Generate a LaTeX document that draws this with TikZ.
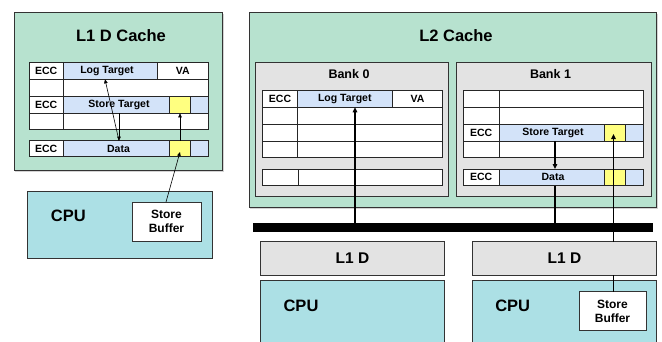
\documentclass[tikz,border=0pt]{standalone}
\usepackage{fontspec}
\setmainfont{Liberation Sans}
\usetikzlibrary{shadows,arrows.meta}
\definecolor{cgreen}{RGB}{183,226,207}
\definecolor{cgray}{RGB}{227,227,227}
\definecolor{cblue}{RGB}{211,227,249}
\definecolor{cyel}{RGB}{255,255,128}
\definecolor{ccyan}{RGB}{172,224,229}
\newcommand\rbox[7]{\node[#2, minimum width={(#5-#3)*1pt}, minimum height={(#6-#4)*1pt}] (#1) at ({(#3+#5)/2},{(#4+#6)/2}) {#7};}
\begin{document}
\begin{tikzpicture}[x=1pt,y=-1pt,
  box/.style={draw=black!80, line width=0.9pt, inner sep=0pt, outer sep=0pt},
  shbox/.style={box, drop shadow={shadow xshift=1pt, shadow yshift=-1.5pt, opacity=0.35}},
  cell/.style={draw=black!85, line width=0.8pt, fill=white, inner sep=0pt, outer sep=0pt, font=\fontsize{10.5}{12}\selectfont\bfseries},
  bluecell/.style={cell, fill=cblue},
  yelcell/.style={cell, fill=cyel},
  celltext/.style={inner sep=0pt, font=\fontsize{10.5}{12}\selectfont\bfseries},
  bigtitle/.style={inner sep=0pt, font=\fontsize{16.5}{18}\selectfont\bfseries},
  banktitle/.style={inner sep=0pt, font=\fontsize{12.5}{14}\selectfont\bfseries},
  cputext/.style={inner sep=0pt, font=\fontsize{16.5}{18}\selectfont\bfseries},
  sbtext/.style={align=center, font=\fontsize{12}{14}\selectfont\bfseries},
  thinarr/.style={-{Triangle[length=4pt,width=3.5pt]}, line width=0.6pt},
  arr/.style={-{Triangle[length=5pt,width=4.5pt]}, line width=1.3pt},
  conn/.style={line width=1.3pt}]
\useasboundingbox (0,0) rectangle (662,341);

% ---------- L1 D Cache (left) ----------
\rbox{l1c}{shbox, fill=cgreen}{14}{12.7}{222.7}{170}{}
\node[bigtitle] (l1title) at (121,36) {L1 D Cache};
\rbox{l1ecc1}{cell}{29}{62.7}{63.3}{79.3}{ECC}
\rbox{l1lt}{bluecell}{63.3}{62.7}{157.7}{79.3}{}
\node[celltext] (l1lttext) at (107,71) {Log Target};
\rbox{l1va}{cell}{157.7}{62.7}{208}{79.3}{VA}
\rbox{l1a2}{cell}{29}{79.3}{63.3}{96.7}{}
\rbox{l1b2}{cell}{63.3}{79.3}{208}{96.7}{}
\rbox{l1ecc3}{cell}{29}{96.7}{63.3}{113.3}{ECC}
\rbox{l1st}{bluecell}{63.3}{96.7}{208}{113.3}{}
\node[celltext] (l1sttext) at (119,105) {Store Target};
\rbox{l1sty}{yelcell}{169.3}{96.7}{190.7}{113.3}{}
\rbox{l1a4}{cell}{29}{113.3}{63.3}{129.3}{}
\rbox{l1b4}{cell}{63.3}{113.3}{208}{129.3}{}
\rbox{l1ecc5}{cell}{29}{140.7}{63.3}{156.7}{ECC}
\rbox{l1data}{bluecell}{63.3}{140.7}{208}{156.7}{}
\node[celltext] (l1datatext) at (118.5,148.7) {Data};
\rbox{l1dy}{yelcell}{169.3}{140.7}{190.7}{156.7}{}

% ---------- CPU (left) ----------
\rbox{cpu1}{box, fill=ccyan}{27}{191}{212}{258}{}
\node[cputext] (cpu1t) at (68.3,215.5) {CPU};
\rbox{sb1}{box, fill=white, sbtext}{132}{202}{201}{241}{Store\\Buffer}

% L1 arrows
\coordinate (xa) at (119,0);
\coordinate (xb) at (105,0);
\coordinate (xc) at (166,0);
\coordinate (ytip) at (0,152);
\draw[thinarr] (l1st.south -| xa) -- (l1data.north -| xa);
\draw[thinarr] (l1data.north -| xa) -- (l1lt.south -| xb);
\draw[thinarr] (l1dy.north) -- (l1sty.south);
\draw[thinarr] (sb1.north -| xc) -- (ytip -| l1dy.center);

% ---------- L2 Cache ----------
\rbox{l2c}{shbox, fill=cgreen}{249}{12.3}{656.7}{207}{}
\node[bigtitle] (l2title) at (456,36) {L2 Cache};

% Bank 0
\rbox{bank0}{box, fill=cgray}{255}{62.7}{448.3}{196.7}{}
\node[banktitle] (bank0t) at (349,74.3) {Bank 0};
\rbox{b0ecc}{cell}{262.7}{90.7}{297.3}{107.3}{ECC}
\rbox{b0lt}{bluecell}{297.3}{90.7}{392.3}{107.3}{Log Target}
\rbox{b0va}{cell}{392.3}{90.7}{442.7}{107.3}{VA}
\rbox{b0a2}{cell}{262.7}{107.3}{297.3}{124.3}{}
\rbox{b0b2}{cell}{297.3}{107.3}{442.7}{124.3}{}
\rbox{b0a3}{cell}{262.7}{124.3}{297.3}{141}{}
\rbox{b0b3}{cell}{297.3}{124.3}{442.7}{141}{}
\rbox{b0a4}{cell}{262.7}{141}{297.3}{157.3}{}
\rbox{b0b4}{cell}{297.3}{141}{442.7}{157.3}{}
\rbox{b0a5}{cell}{262.7}{169}{298}{185.7}{}
\rbox{b0b5}{cell}{298}{169}{442.7}{185.7}{}

% Bank 1
\rbox{bank1}{box, fill=cgray}{456}{62.7}{651.7}{196.7}{}
\node[banktitle] (bank1t) at (550.5,74.3) {Bank 1};
\rbox{b1a1}{cell}{463.3}{90.7}{499}{107.3}{}
\rbox{b1b1}{cell}{499}{90.7}{643.3}{107.3}{}
\rbox{b1a2}{cell}{463.3}{107.3}{499}{124.3}{}
\rbox{b1b2}{cell}{499}{107.3}{643.3}{124.3}{}
\rbox{b1ecc3}{cell}{463.3}{124.3}{499}{141}{ECC}
\rbox{b1st}{bluecell}{499}{124.3}{643.3}{141}{}
\node[celltext] (b1sttext) at (553,132.7) {Store Target};
\rbox{b1sty}{yelcell}{604.3}{124.3}{625.7}{141}{}
\rbox{b1a4}{cell}{463.3}{141}{499}{157.3}{}
\rbox{b1b4}{cell}{499}{141}{643.3}{157.3}{}
\rbox{b1ecc5}{cell}{463.3}{169}{499}{185.7}{ECC}
\rbox{b1data}{bluecell}{499}{169}{643.3}{185.7}{}
\node[celltext] (b1datatext) at (553,177.3) {Data};
\rbox{b1dy}{yelcell}{604.3}{169}{625.7}{185.7}{}

% ---------- Bus ----------
\rbox{bus}{fill=black, inner sep=0pt, outer sep=0pt}{253.3}{223.3}{652.7}{231.7}{}

% ---------- L1 D / CPU (bottom) ----------
\rbox{l1d1}{box, fill=cgray, font=\fontsize{15.5}{17}\selectfont\bfseries}{260.7}{241.7}{444.3}{275}{L1 D}
\rbox{l1d2}{box, fill=cgray, font=\fontsize{15.5}{17}\selectfont\bfseries}{472.3}{241.7}{656.7}{275}{L1 D}
\rbox{cpu2}{box, fill=ccyan}{260.7}{280.7}{444.3}{346}{}
\node[cputext] (cpu2t) at (301,306) {CPU};
\rbox{cpu3}{box, fill=ccyan}{472.3}{280.7}{656.7}{346}{}
\node[cputext] (cpu3t) at (512.7,306) {CPU};
\rbox{sb2}{box, fill=white, sbtext}{579}{291.7}{646}{330.7}{Store\\Buffer}

% L2 connectors
\coordinate (x0) at (355,0);
\coordinate (x1) at (555,0);
\coordinate (x2) at (613.5,0);
\coordinate (ytip2) at (0,134);
\draw[arr] (bus.north -| x0) -- (b0lt.south -| x0);
\draw[arr] (b1st.south -| x1) -- (b1data.north -| x1);
\draw[conn] (b1data.south -| x1) -- (bus.north -| x1);
\draw[arr] (bus.north -| x2) -- (ytip2 -| x2);
\draw[conn] (bus.south -| x2) -- (l1d2.north -| x2);
\draw[conn] (l1d2.south -| x2) -- (sb2.north -| x2);
\end{tikzpicture}
\end{document}
